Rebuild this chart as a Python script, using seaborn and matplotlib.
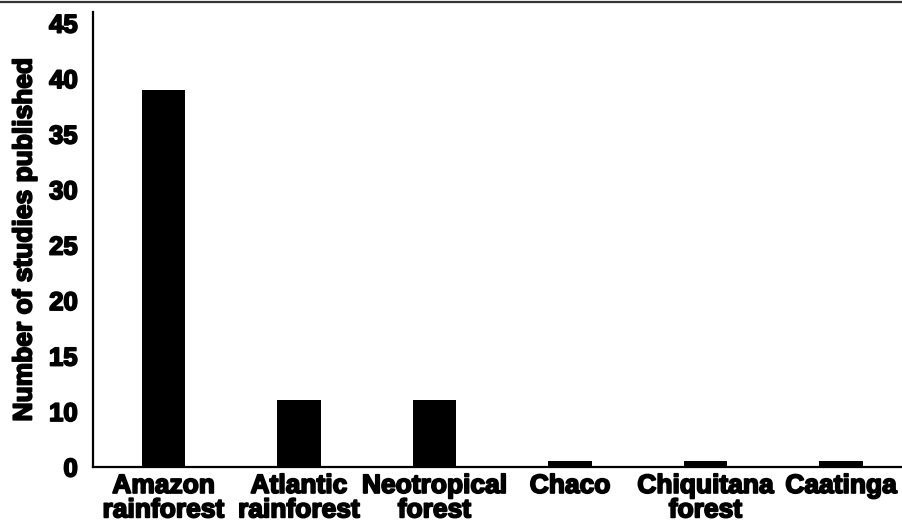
import numpy as np
import seaborn as sns
import matplotlib
matplotlib.use('Agg')
import matplotlib.pyplot as plt
import matplotlib.patheffects as pe
from matplotlib.lines import Line2D

categories = ['Amazon\nrainforest', 'Atlantic\nrainforest', 'Neotropical\nforest',
              'Chaco', 'Chiquitana\nforest', 'Caatinga']
studies = [39, 11, 11, 1, 1, 1]
yticks = [0, 10, 15, 20, 25, 30, 35, 40, 45]

sns.set_style('white')
plt.rcParams['font.family'] = ['Liberation Sans', 'DejaVu Sans']
plt.rcParams['font.weight'] = 'bold'
for k in ['text.color', 'axes.labelcolor', 'xtick.color', 'ytick.color']:
    plt.rcParams[k] = 'black'

# the original axis squeezes 0-10 into one tick step
def fwd(y):
    y = np.asarray(y, dtype=float)
    return np.where(y < 10, y / 2.0, y - 5.0)

def inv(t):
    t = np.asarray(t, dtype=float)
    return np.where(t < 5, t * 2.0, t + 5.0)

heavy = [pe.withStroke(linewidth=1.3, foreground='black')]

fig = plt.figure(figsize=(9.02, 5.3), dpi=100)
ax = fig.add_axes([93 / 902, 63 / 530, 809 / 902, 455 / 530])

sns.barplot(x=categories, y=studies, color='black', width=0.32, saturation=1,
            edgecolor='none', ax=ax)

ax.set_yscale('function', functions=(fwd, inv))
ax.set_ylim(0, 46)
ax.set_yticks(yticks)
ax.set_yticklabels([str(t) for t in yticks])
ax.set_xlim(-0.52, 5.45)

ax.tick_params(axis='y', length=0, labelsize=18.5, pad=11)
ax.tick_params(axis='x', length=0, labelsize=19, pad=5)
for lab in ax.get_xticklabels():
    lab.set_linespacing(1.02)
for lab in ax.get_xticklabels() + ax.get_yticklabels():
    lab.set_fontweight('bold')
    lab.set_path_effects(heavy)

ax.set_ylabel('Number of studies published', fontsize=19, fontweight='bold', labelpad=9,
              path_effects=heavy)
ax.set_xlabel('')

sns.despine(ax=ax)
for s in ['left', 'bottom']:
    ax.spines[s].set_linewidth(1.6)
    ax.spines[s].set_color('black')

fig.add_artist(Line2D([0, 1], [1 - 1.5 / 530, 1 - 1.5 / 530], transform=fig.transFigure,
                      color='#333333', linewidth=1.6))

fig.savefig('out.png', dpi=100)
